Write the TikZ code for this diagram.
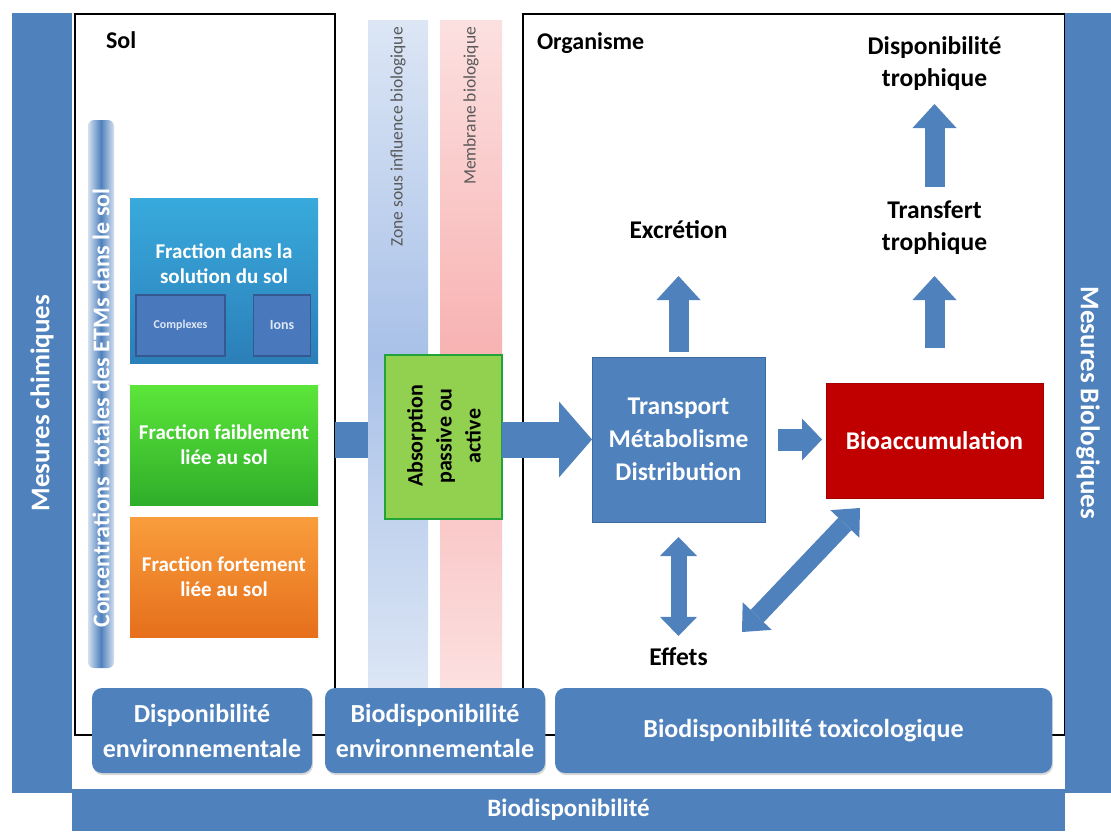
\documentclass[tikz,border=0pt]{standalone}
\usepackage{fontspec}
\setmainfont{Carlito}
\usetikzlibrary{arrows.meta,shadows}
\definecolor{bl}{HTML}{4F81BD}
\definecolor{bldk}{HTML}{3D6A9E}
\definecolor{redb}{HTML}{C00000}
\definecolor{absg}{HTML}{92D050}
\definecolor{absb}{HTML}{22A33A}
\definecolor{tl1}{HTML}{38AADC}
\definecolor{tl2}{HTML}{2C7FB9}
\definecolor{g1}{HTML}{5CE63A}
\definecolor{g2}{HTML}{2FAE2A}
\definecolor{o1}{HTML}{F99D3C}
\definecolor{o2}{HTML}{E66F1C}
\definecolor{sb1}{HTML}{DCE6F5}
\definecolor{sb2}{HTML}{A9C1E8}
\definecolor{sp1}{HTML}{FCE0E0}
\definecolor{sp2}{HTML}{F8B2B2}
\definecolor{inb}{HTML}{4A78BD}
\definecolor{inbd}{HTML}{34588F}
\definecolor{pale}{HTML}{DDE8F5}
\newcommand\fz[2]{\fontsize{#1}{#2}\selectfont}
\begin{document}
\begin{tikzpicture}[x=1pt,y=-1pt,
  every node/.style={inner sep=0pt,outer sep=0pt},
  lab/.style={font=\fz{25.5}{32}\bfseries,align=center},
  frame/.style={draw=black,line width=1.8pt},
  bar/.style={fill=bl,text=white},
  striplab/.style={rotate=90,anchor=east,font=\fz{17.5}{20},text=black!65},
  fr/.style={minimum width=188pt,text=white,font=\fz{21}{25}\bfseries,align=center},
  innerb/.style={fill=inb,draw=inbd,line width=1.5pt,text=pale,minimum height=61pt},
  bbox/.style={fill=bl,rounded corners=10pt,text=white,font=\fz{26}{35}\bfseries,align=center,
    minimum height=85pt,drop shadow={opacity=0.3,shadow xshift=1pt,shadow yshift=-2pt}},
  fatarrow/.style n args={3}{draw=bl,line width=#1,-{Triangle[width=#2,length=#3,line width=0pt]}},
  dblarrow/.style n args={3}{draw=bl,line width=#1,{Triangle[width=#2,length=#3,line width=0pt]}-{Triangle[width=#2,length=#3,line width=0pt]}}]
\useasboundingbox (0,0) rectangle (1111,831);
\fill[white] (0,0) rectangle (1111,831);

% strips
\node[top color=sb1,bottom color=sb1,middle color=sb2,minimum width=60pt,minimum height=670pt] (zone) at (398,355) {};
\node[top color=sp1,bottom color=sp1,middle color=sp2,minimum width=62pt,minimum height=670pt] (memb) at (471,355) {};
\node[striplab] (zonelab) at (398,27) {Zone sous influence biologique};
\node[striplab] (memblab) at (471,27) {Membrane biologique};

% frames
\node[frame,minimum width=260pt,minimum height=721pt] (sol) at (205,374.5) {};
\node[frame,minimum width=542pt,minimum height=721pt] (org) at (794,374.5) {};
\node[anchor=west,font=\fz{24}{28}\bfseries] (sollab) at (106,40) {Sol};
\node[anchor=west,font=\fz{24}{28}\bfseries] (orglab) at (537,43) {Organisme};

% concentrations bar
\node[left color=bl!25,right color=bl!25,middle color=bl,minimum width=26pt,minimum height=548pt,rounded corners=6pt] (conc) at (101,394) {};
\node[rotate=90,text=white,font=\fz{24}{28}\bfseries] (conclab) at (101,408) {Concentrations\ \ totales des ETMs dans le sol};

% fractions
\node[fr,top color=tl1,bottom color=tl2,minimum height=165pt] (solfr) at (224,280.5) {};
\node[text=white,font=\fz{21}{25}\bfseries,align=center] (solfrlab) at (224,264) {Fraction dans la\\solution du sol};
\node[innerb,minimum width=89pt] (cplx) at (180.5,325.5) {\fz{12}{14}\bfseries Complexes};
\node[innerb,minimum width=57pt] (ions) at (282,325.5) {\fz{14}{16}\bfseries Ions};
\node[fr,top color=g1,bottom color=g2,minimum height=120pt] (faib) at (224,445) {Fraction faiblement\\liée au sol};
\node[fr,top color=o1,bottom color=o2,minimum height=120pt] (fort) at (224,577) {Fraction fortement\\liée au sol};

% absorption
\node[fill=absg,draw=absb,line width=2pt,minimum width=117pt,minimum height=164pt] (absorb) at (443.5,437) {};
\node[rotate=90,font=\fz{22}{29}\bfseries,align=center] (abslab) at (444,436) {Absorption\\passive ou\\active};

% organism boxes
\node[fill=bl,draw=bldk,line width=1pt,minimum width=173pt,minimum height=165pt,text=white,font=\fz{25.5}{33}\bfseries,align=center] (transport) at (678.5,439.5) {Transport\\Métabolisme\\Distribution};
\node[fill=redb,draw=redb!85!black,minimum width=217pt,minimum height=115pt,text=white,font=\fz{25.5}{30}\bfseries] (bioacc) at (934.5,440.5) {Bioaccumulation};

% labels
\node[lab] (excr) at (678.5,230) {Excrétion};
\node[lab] (transf) at (934.5,228) {Transfert\\trophique};
\node[lab] (disptr) at (934.5,64) {Disponibilité\\trophique};
\node[lab] (effets) at (678.5,657) {Effets};

\coordinate (exTip) at (678.5,276);
\coordinate (trTip) at (934.5,276);
\coordinate (dtTip) at (934.5,104);
\coordinate (diagA) at (742,632);
\coordinate (diagB) at (860,508);

% connectors
\draw[bl,line width=36pt] (sol.east |- transport.west) -- (zone.west |- transport.west);
\draw[fatarrow={36pt}{76pt}{33pt}] (absorb.east |- transport.west) -- (transport.west);
\draw[fatarrow={22pt}{42pt}{20pt},shorten <=13pt,shorten >=4pt] (transport.east) -- (bioacc.west |- transport.east);
\draw[fatarrow={20pt}{44pt}{24pt},shorten <=5pt] (transport.north) -- (exTip);
\draw[fatarrow={20pt}{44pt}{24pt},shorten <=35pt] (bioacc.north) -- (trTip);
\draw[fatarrow={20pt}{44pt}{24pt},shorten <=14pt] (transf.north) -- (dtTip);
\draw[dblarrow={16pt}{37pt}{19pt},shorten <=15pt,shorten >=12pt] (transport.south) -- (transport.south |- effets.north);
\draw[dblarrow={18pt}{40pt}{22pt}] (diagA) -- (diagB);

% bottom boxes
\node[bbox,minimum width=220pt] (de) at (202,730.5) {Disponibilité\\environnementale};
\node[bbox,minimum width=220pt] (be) at (435,730.5) {Biodisponibilité\\environnementale};
\node[bbox,minimum width=497pt] (bt) at (803.5,730.5) {Biodisponibilité toxicologique};

% side and bottom bars
\node[bar,rotate=90,minimum width=780pt,minimum height=60pt,font=\fz{27}{30}\bfseries] (mchim) at (42,403) {Mesures chimiques};
\node[bar,rotate=-90,minimum width=780pt,minimum height=46pt,font=\fz{27}{30}\bfseries] (mbio) at (1088,403) {Mesures Biologiques};
\node[bar,minimum width=993pt,minimum height=42pt,font=\fz{25}{28}\bfseries] (biod) at (568.5,810) {Biodisponibilité};
\end{tikzpicture}
\end{document}
